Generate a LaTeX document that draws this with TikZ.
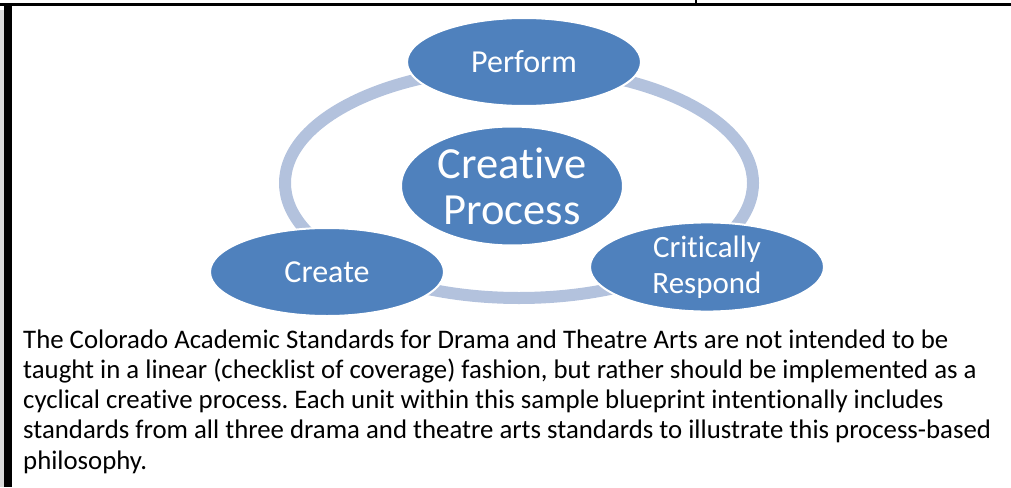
\documentclass[tikz,border=0pt]{standalone}
\usepackage{fontspec}
\setmainfont{Carlito}[Ligatures=NoCommon]
\frenchspacing
\usetikzlibrary{shapes.geometric}
\definecolor{nodeblue}{HTML}{4F81BD}
\definecolor{ringblue}{HTML}{B3C2DD}
\definecolor{stripgray}{HTML}{D9D9D9}
\tikzset{
  ringline/.style={draw=ringblue, line width=12pt},
  stage/.style={ellipse, fill=nodeblue, draw=white, line width=2pt, text=white,
    inner sep=0pt, align=center, minimum width=234pt, minimum height=88pt,
    font=\fontsize{32}{36.5}\selectfont},
  bodytext/.style={anchor=base west, inner sep=0pt, align=left,
    font=\fontsize{26.8}{30.3}\selectfont}
}
\begin{document}
\begin{tikzpicture}[x=1pt, y=-1pt]
\useasboundingbox (0,0) rectangle (1011,487);
% frame
\fill[stripgray] (0,10) rectangle (4,487);
\fill[black] (4,3) rectangle (12,487);
\fill[black] (0,3) rectangle (1011,6);
\draw[black, line width=1.2pt] (696,0) -- (696,3);
% ring
\draw[ringline] (519,183) ellipse [x radius=234, y radius=115];
% stages
\node[stage] (perform) at (524,62) {Perform};
\node[stage, minimum width=222pt, minimum height=119pt,
      font=\fontsize{44.5}{46}\selectfont] (creative) at (512,186) {Creative\\Process};
\node[stage] (create) at (327,272) {Create};
\node[stage, font=\fontsize{31}{36.5}\selectfont] (respond) at (707,267) {Critically\\Respond};
% paragraph (base anchor = last line's baseline)
\node[bodytext] (para) at (23,469.2) {The Colorado Academic Standards for Drama and Theatre Arts are not intended to be\\
taught in a linear (checklist of coverage) fashion, but rather should be implemented as a\\
cyclical creative process. Each unit within this sample blueprint intentionally includes\\
standards from all three drama and theatre arts standards to illustrate this process-based\\
philosophy.};
\end{tikzpicture}
\end{document}
